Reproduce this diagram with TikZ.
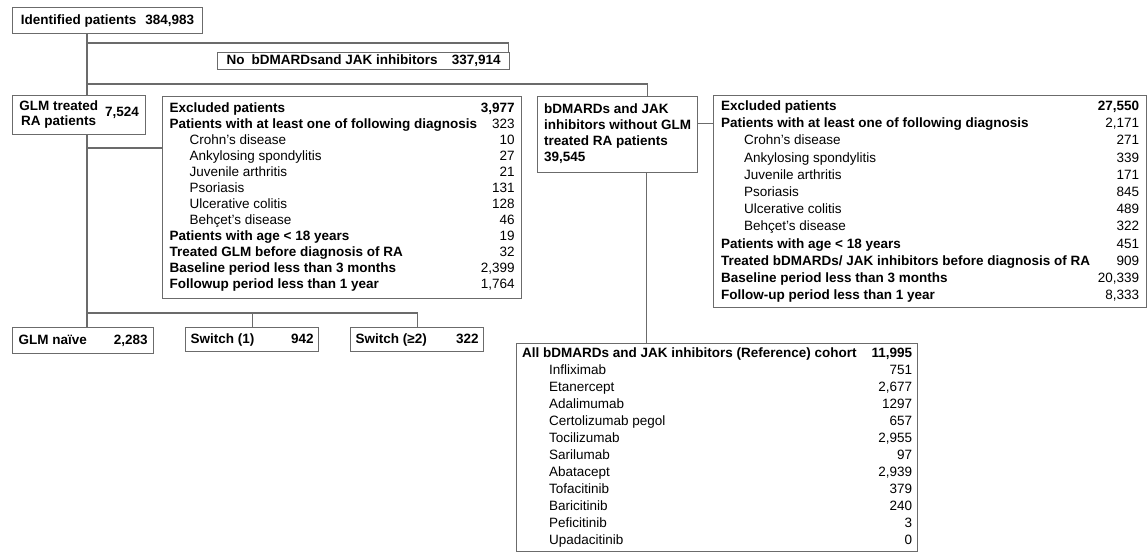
\documentclass[tikz,border=0pt]{standalone}
\usepackage{fontspec}
\setmainfont{Liberation Sans}
\newlength{\subgap}
\newcommand{\subrow}[1]{\hspace*{\subgap}#1}
\definecolor{linegray}{HTML}{6B6B6B}

\begin{document}
\begin{tikzpicture}[x=1pt,y=-1pt,
  every node/.style={font=\fontsize{13.5}{16}\selectfont},
  box/.style={draw=linegray,line width=1.2pt,anchor=north west,inner sep=0pt},
  link/.style={draw=linegray,line width=1.2pt}]
\useasboundingbox (0,0) rectangle (1148,552);

% top of the flow
\node[box,minimum width=190pt,minimum height=26pt] (ident) at (12,7) {\textbf{Identified patients\hspace{9pt}384,983}};
\node[box,minimum width=292pt,minimum height=17pt] (nob) at (217,52) {\textbf{\makebox[274pt][s]{No\hspace{7pt}bDMARDsand JAK inhibitors\hfill 337,914}}};

% GLM branch
\node[box,minimum width=133pt,minimum height=39pt] (glmtx) at (12,95) {\bfseries\begin{tabular}{@{}c@{}}GLM treated\\[-1pt]RA patients\end{tabular}\hspace{7pt}\raisebox{2pt}{7,524}};
\node[box,minimum width=359pt,minimum height=202pt] (exglm) at (162,96) {\setlength{\subgap}{20pt}%
\begin{tabular*}{345pt}{@{}l@{\extracolsep{\fill}}r@{}}
\textbf{Excluded patients} & \textbf{3,977}\\
\textbf{Patients with at least one of following diagnosis} & 323\\
\subrow{Crohn’s disease} & 10\\
\subrow{Ankylosing spondylitis} & 27\\
\subrow{Juvenile arthritis} & 21\\
\subrow{Psoriasis} & 131\\
\subrow{Ulcerative colitis} & 128\\
\subrow{Behçet’s disease} & 46\\
\textbf{Patients with age < 18 years} & 19\\
\textbf{Treated GLM before diagnosis of RA} & 32\\
\textbf{Baseline period less than 3 months} & 2,399\\
\textbf{Followup period less than 1 year} & 1,764
\end{tabular*}};
\node[box,minimum width=141pt,minimum height=26pt] (glmnv) at (12,327) {\textbf{\makebox[129pt][s]{GLM naïve\hfill 2,283}}};
\node[box,minimum width=133pt,minimum height=24pt] (sw1) at (185,327) {\textbf{\makebox[123pt][s]{Switch (1)\hfill 942}}};
\node[box,minimum width=133pt,minimum height=24pt] (sw2) at (350,327) {\textbf{\makebox[123pt][s]{Switch (≥2)\hfill 322}}};

% bDMARDs / JAK branch
\node[box,minimum width=160pt,minimum height=76pt] (biotx) at (537,96) {\bfseries\begin{tabular}{@{}l@{}}bDMARDs and JAK\\inhibitors without GLM\\treated RA patients\\39,545\end{tabular}};
\node[box,minimum width=433pt,minimum height=212pt,font=\fontsize{13.5}{17.2}\selectfont] (exbio) at (713,95) {\setlength{\subgap}{23pt}%
\begin{tabular*}{418pt}{@{}l@{\extracolsep{\fill}}r@{}}
\textbf{Excluded patients} & \textbf{27,550}\\
\textbf{Patients with at least one of following diagnosis} & 2,171\\
\subrow{Crohn’s disease} & 271\\
\subrow{Ankylosing spondylitis} & 339\\
\subrow{Juvenile arthritis} & 171\\
\subrow{Psoriasis} & 845\\
\subrow{Ulcerative colitis} & 489\\
\subrow{Behçet’s disease} & 322\\
\textbf{Patients with age < 18 years} & 451\\
\textbf{Treated bDMARDs/ JAK inhibitors before diagnosis of RA} & 909\\
\textbf{Baseline period less than 3 months} & 20,339\\
\textbf{Follow-up period less than 1 year} & 8,333
\end{tabular*}};
\node[box,minimum width=401pt,minimum height=208pt,font=\fontsize{13.5}{17}\selectfont] (refco) at (516,343) {\setlength{\subgap}{27pt}%
\begin{tabular*}{390pt}{@{}l@{\extracolsep{\fill}}r@{}}
\textbf{All bDMARDs and JAK inhibitors (Reference) cohort} & \textbf{11,995}\\
\subrow{Infliximab} & 751\\
\subrow{Etanercept} & 2,677\\
\subrow{Adalimumab} & 1297\\
\subrow{Certolizumab pegol} & 657\\
\subrow{Tocilizumab} & 2,955\\
\subrow{Sarilumab} & 97\\
\subrow{Abatacept} & 2,939\\
\subrow{Tofacitinib} & 379\\
\subrow{Baricitinib} & 240\\
\subrow{Peficitinib} & 3\\
\subrow{Upadacitinib} & 0
\end{tabular*}};

% connectors
\coordinate (trk) at (87,0);
\coordinate (sp1) at (87,43);
\coordinate (sp2) at (87,84);
\coordinate (sp3) at (87,148);
\coordinate (sp4) at (87,313);
\draw[link] (ident.south -| trk) -- (glmtx.north -| trk);
\draw[link] (sp1) -| ([xshift=-2pt]nob.north east);
\draw[link] (sp2) -| ([xshift=30pt]biotx.north);
\draw[link] (glmtx.south -| trk) -- (glmnv.north -| trk);
\draw[link] (sp3) -- (sp3 -| exglm.west);
\draw[link] (sp4) -| (sw1.north);
\draw[link] (sp4) -| (sw2.north);
\draw[link] ([yshift=11pt]biotx.east) -- ([yshift=11pt]biotx.east -| exbio.west);
\draw[link] ([xshift=29pt]biotx.south) -- ([xshift=29pt]biotx.south |- refco.north);
\end{tikzpicture}
\end{document}
